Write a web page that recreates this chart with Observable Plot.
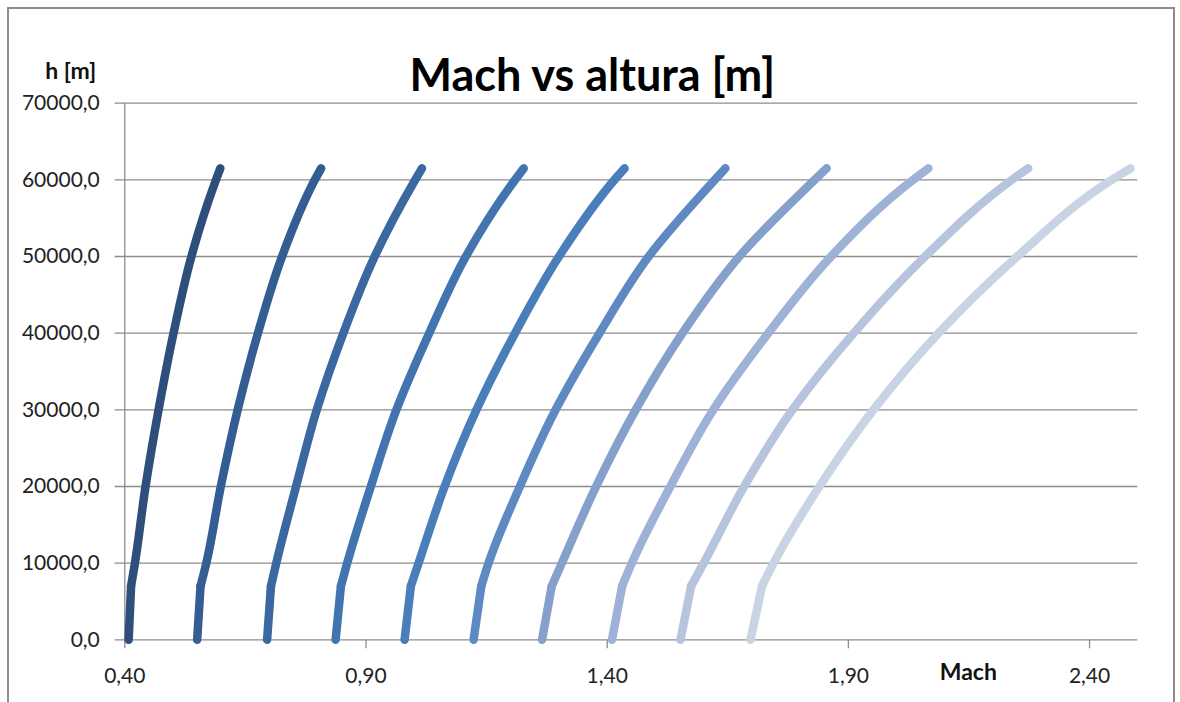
<!DOCTYPE html>
<html>
<head>
<meta charset="utf-8">
<script src="https://cdn.jsdelivr.net/npm/d3@7"></script>
<script src="https://cdn.jsdelivr.net/npm/@observablehq/plot@0.6"></script>
<style>
  html, body { margin: 0; padding: 0; background: #fff; }
  #wrap { position: relative; width: 1180px; height: 702px; overflow: hidden; }
  #frame { position: absolute; left: 7px; top: 7px; width: 1168px; height: 710px;
           border: 2px solid #8c8c8c; box-sizing: border-box; pointer-events: none; }
  svg { font-family: Lato, "Open Sans", sans-serif; }
</style>
</head>
<body>
<div id="wrap"><div id="frame"></div></div>
<script>
// Altitudes (m) at which each curve was read
const heights = [0, 7000, 10000, 20000, 30000, 40000, 50000, 60000, 61500];

// Mach values per curve
const mach1  = [0.408, 0.413, 0.421, 0.443, 0.470, 0.501, 0.538, 0.589, 0.598];
const mach2  = [0.550, 0.557, 0.569, 0.599, 0.634, 0.676, 0.726, 0.794, 0.807];
const mach3  = [0.695, 0.703, 0.714, 0.755, 0.798, 0.853, 0.918, 1.002, 1.016];
const mach4  = [0.837, 0.848, 0.861, 0.910, 0.963, 1.031, 1.107, 1.209, 1.227];
const mach5  = [0.980, 0.993, 1.009, 1.063, 1.129, 1.209, 1.300, 1.415, 1.436];
const mach6  = [1.123, 1.139, 1.154, 1.219, 1.293, 1.384, 1.486, 1.623, 1.645];
const mach7  = [1.265, 1.285, 1.306, 1.377, 1.459, 1.556, 1.674, 1.830, 1.855];
const mach8  = [1.410, 1.431, 1.451, 1.531, 1.620, 1.734, 1.864, 2.034, 2.066];
const mach9  = [1.552, 1.574, 1.600, 1.684, 1.784, 1.911, 2.059, 2.239, 2.273];
const mach10 = [1.697, 1.721, 1.745, 1.840, 1.952, 2.087, 2.250, 2.446, 2.485];

const seriesValues = [mach1, mach2, mach3, mach4, mach5, mach6, mach7, mach8, mach9, mach10];
const seriesNames = ["s1","s2","s3","s4","s5","s6","s7","s8","s9","s10"];
const seriesColors = ["#2e4f7c","#345e93","#3b68a0","#4274b0","#4a7ebb",
                      "#5f89c2","#86a0cc","#9eb1d6","#b6c4dd","#c8d3e4"];

const xTicks = [0.40, 0.90, 1.40, 1.90, 2.40];
const yTicks = [0, 10000, 20000, 30000, 40000, 50000, 60000, 70000];

const titleText = "Mach vs altura [m]";
const yLabel = "h [m]";
const xLabel = "Mach";

// Build tidy rows; the low segment (0–7000 m) is straight, the rest smooth
const lowRows = [], highRows = [];
seriesValues.forEach((vals, i) => {
  vals.forEach((m, j) => {
    const row = {series: seriesNames[i], mach: m, h: heights[j]};
    if (heights[j] <= 7000) lowRows.push(row);
    if (heights[j] >= 7000) highRows.push(row);
  });
});

const fmtY = d => d.toFixed(1).replace(".", ",");
const fmtX = d => d.toFixed(2).replace(".", ",");

const chart = Plot.plot({
  width: 1180,
  height: 702,
  marginLeft: 124.3,
  marginRight: 42.7,
  marginTop: 102.7,
  marginBottom: 62.7,
  style: {background: "transparent", fontFamily: "Lato, 'Open Sans', sans-serif"},
  x: {domain: [0.40, 2.50], ticks: xTicks, tickFormat: fmtX},
  y: {domain: [0, 70000], ticks: yTicks, tickFormat: fmtY},
  color: {domain: seriesNames, range: seriesColors},
  marks: [
    Plot.gridY(yTicks, {stroke: "#8c8c8c", strokeOpacity: 1, strokeWidth: 1.3, x1: 0.40 - 0.02, x2: 2.50}),
    Plot.ruleX([0.40], {stroke: "#8c8c8c", strokeWidth: 1.3}),
    Plot.axisX({ticks: xTicks, tickFormat: fmtX, tickSize: 9, tickPadding: 19,
                stroke: "#8c8c8c", strokeWidth: 1.3, strokeOpacity: 1,
                fontSize: 21, fill: "#222", label: null, style: {letterSpacing: "0.8px"}}),
    Plot.axisY({ticks: yTicks, tickFormat: fmtY, tickSize: 0, tickPadding: 25,
                fontSize: 21, fill: "#222", label: null, style: {letterSpacing: "1.4px"}}),
    Plot.line(lowRows, {x: "mach", y: "h", z: "series", stroke: "series",
                        strokeWidth: 8.5, strokeLinecap: "round", strokeLinejoin: "round", curve: "linear"}),
    Plot.line(highRows, {x: "mach", y: "h", z: "series", stroke: "series",
                         strokeWidth: 8.5, strokeLinecap: "round", strokeLinejoin: "round", curve: "monotone-y"}),
    Plot.text([titleText], {frameAnchor: "top", dx: -39, dy: -44, fontSize: 45, fontWeight: "bold",
                            fill: "#000", textAnchor: "middle"}),
    Plot.text([yLabel], {frameAnchor: "top-left", dx: -54, dy: -41, fontSize: 23, fontWeight: "bold",
                         fill: "#111", textAnchor: "middle", style: {letterSpacing: "0.5px"}}),
    Plot.text([xLabel], {frameAnchor: "bottom", dx: 337, dy: 40, fontSize: 23, fontWeight: "bold",
                         fill: "#111", textAnchor: "middle", style: {letterSpacing: "0.5px"}})
  ]
});

document.getElementById("wrap").prepend(chart);
</script>
</body>
</html>
